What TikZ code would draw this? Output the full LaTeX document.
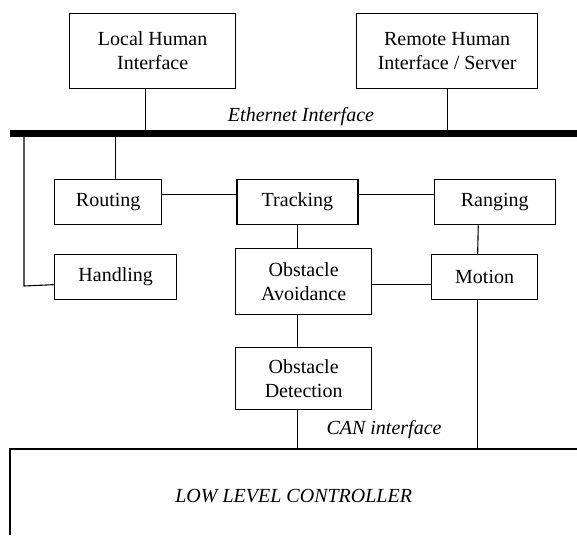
\documentclass[tikz,border=0pt]{standalone}
\usepackage{fontspec}
\setmainfont{Liberation Serif}
\usetikzlibrary{positioning}

\begin{document}
\begin{tikzpicture}[
    x=1pt, y=-1pt,
    font=\fontsize{20}{24}\selectfont,
    block/.style={draw, line width=1.3pt, align=center, inner sep=0pt, anchor=north west},
    link/.style={line width=1.1pt},
    bus/.style={line width=6.5pt},
    note/.style={font=\fontsize{20}{24}\selectfont\itshape}
]
\useasboundingbox (0,0) rectangle (577,535);

\node[block, minimum width=166pt, minimum height=75pt] (local) at (69,13) {Local Human\\Interface};
\node[block, minimum width=181pt, minimum height=75pt] (remote) at (356,13) {Remote Human\\Interface / Server};

\node[block, minimum width=107pt, minimum height=45pt] (routing) at (54,179) {Routing};
\node[block, minimum width=121pt, minimum height=45pt, right=74pt of routing] (tracking) {Tracking};
\node[block, minimum width=121pt, minimum height=45pt, right=75pt of tracking] (ranging) {Ranging};

\node[block, minimum width=122pt, minimum height=45pt] (handling) at (54,254) {Handling};
\node[block, minimum width=136pt, minimum height=66pt] (avoid) at (235,248) {Obstacle\\Avoidance};
\node[block, minimum width=106pt, minimum height=45pt] (motion) at (431,254) {Motion};
\node[block, minimum width=136pt, minimum height=62pt] (detect) at (235,347) {\raisebox{-3pt}{Obstacle}\\\raisebox{-3pt}{Detection}};

\node[anchor=north west, inner sep=0pt, minimum width=567pt, minimum height=86pt] (llc) at (10,449) {};
\node[note] (llctext) at ([yshift=-3.5pt]llc.center) {LOW LEVEL CONTROLLER};
\draw[line width=1.5pt] (llc.south west) -- (llc.north west) -- (llc.north east);

% ethernet bus
\coordinate (busW) at (10,133.5);
\coordinate (busE) at (577,133.5);
\coordinate (tapH) at (24,133.5);
\coordinate (bendH) at (24,286);
\draw[bus] (busW) -- (busE);
\node[note] (eth) at (301,117) {Ethernet Interface};

\draw[link] ([xshift=-7pt]local.south) -- ([xshift=-7pt]local.south |- busW);
\draw[link] (remote.south) -- (remote.south |- busW);
\draw[link] (tapH) -- (bendH) -- ([yshift=-7.5pt]handling.west);
\draw[link] ([xshift=7.5pt]routing.north) -- ([xshift=7.5pt]routing.north |- busW);

\draw[link] ([yshift=7.5pt]routing.east) -- ([yshift=7.5pt]routing.east -| tracking.west);
\draw[link] ([yshift=7.5pt]tracking.east) -- ([yshift=7.5pt]tracking.east -| ranging.west);
\draw[link] (tracking.south) -- (tracking.south |- avoid.north);
\draw[link] ([xshift=-16.5pt]ranging.south) -- ([xshift=-7pt]motion.north);
\draw[link] ([yshift=-3pt]avoid.east) -- ([yshift=-3pt]avoid.east -| motion.west);
\draw[link] (avoid.south -| tracking.south) -- (detect.north -| tracking.south);

% CAN side
\draw[link] (detect.south -| tracking.south) -- (llc.north -| tracking.south);
\draw[link] ([xshift=-7pt]motion.south) -- ([xshift=-7pt]motion.south |- llc.north);
\node[note] (can) at (384,430) {CAN interface};
\end{tikzpicture}
\end{document}
